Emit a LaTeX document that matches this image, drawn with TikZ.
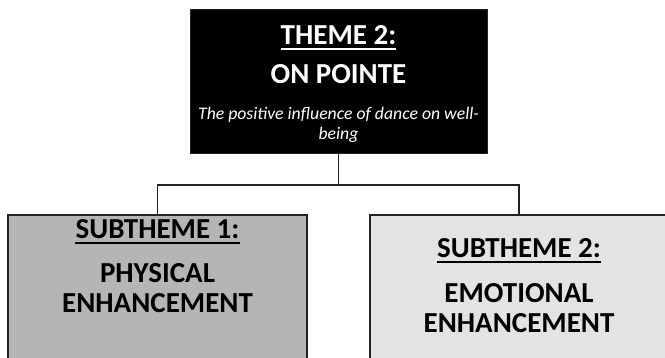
\documentclass[tikz,border=0pt]{standalone}
\usepackage{fontspec}
\setmainfont{Carlito}
\definecolor{boxdark}{HTML}{000000}
\definecolor{subone}{HTML}{B5B5B5}
\definecolor{subtwo}{HTML}{E3E3E3}
\definecolor{edge}{HTML}{222222}
\begin{document}
\begin{tikzpicture}[x=1pt,y=-1pt,
  topbox/.style={draw=edge,line width=1pt,fill=boxdark,minimum width=297pt,minimum height=144pt,inner sep=0pt},
  subbox/.style={draw=edge,line width=2pt,minimum width=299pt,minimum height=170pt,inner sep=0pt},
  bigtxt/.style={font=\fontsize{29}{30}\selectfont\bfseries,anchor=base,inner sep=0pt},
  ittxt/.style={font=\fontsize{17.7}{20}\selectfont\itshape,anchor=base,inner sep=0pt,text=white},
  uline/.style={line width=1.7pt},
  conn/.style={draw=edge,line width=1.5pt}]
\useasboundingbox (0,0) rectangle (665,358);
\clip (0,0) rectangle (665,358);
% boxes
\node[topbox] (top) at (338.5,82) {};
\node[subbox,fill=subone] (left) at (157.5,300) {};
\node[subbox,fill=subtwo] (right) at (519,300) {};
% connectors
\coordinate (junc) at (338.5,185);
\draw[conn] (top.south) -- (junc);
\draw[conn] (junc) -| (left.north);
\draw[conn] (junc) -| (right.north);
% top texts
\node[bigtxt,text=white] (t1) at (338.5,45) {THEME 2:};
\draw[uline,white] ([yshift=-4pt]t1.base west) -- ([yshift=-4pt]t1.base east);
\node[bigtxt,text=white] (t2) at (338.5,84) {ON POINTE};
\node[ittxt] (t3) at (338.5,120) {The positive influence of dance on well-};
\node[ittxt] (t4) at (338.5,140) {being};
% left texts
\node[bigtxt] (l1) at (157.5,239) {SUBTHEME 1:};
\draw[uline] ([yshift=-4pt]l1.base west) -- ([yshift=-4pt]l1.base east);
\node[bigtxt] (l2) at (157.5,283) {PHYSICAL};
\node[bigtxt] (l3) at (157.5,313) {ENHANCEMENT};
% right texts
\node[bigtxt] (r1) at (519,258) {SUBTHEME 2:};
\draw[uline] ([yshift=-4pt]r1.base west) -- ([yshift=-4pt]r1.base east);
\node[bigtxt] (r2) at (519,303) {EMOTIONAL};
\node[bigtxt] (r3) at (519,333) {ENHANCEMENT};
\end{tikzpicture}
\end{document}
